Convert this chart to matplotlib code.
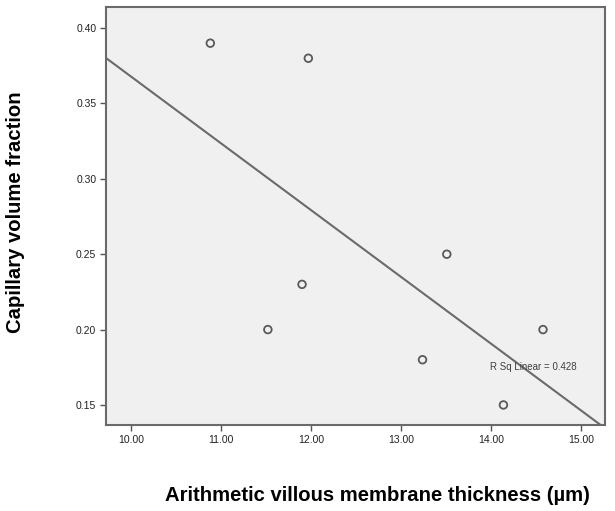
import matplotlib.pyplot as plt
import numpy as np

# villous membrane thickness vs capillary volume fraction
thickness = [10.88, 11.52, 11.90, 11.97, 13.24, 13.51, 14.14, 14.58]
cap_frac = [0.39, 0.20, 0.23, 0.38, 0.18, 0.25, 0.15, 0.20]
x_ticks = [10, 11, 12, 13, 14, 15]
y_ticks = [0.15, 0.20, 0.25, 0.30, 0.35, 0.40]
r2_label = "R Sq Linear = 0.428"

plt.rcParams["font.family"] = ["Liberation Sans", "DejaVu Sans"]

fig = plt.figure(figsize=(6.15, 5.11), dpi=100)
ax = fig.add_axes([0.1724, 0.1683, 0.8114, 0.818])
ax.set_facecolor("#f0f0f0")

xlim = (9.72, 15.27)
ax.set_xlim(xlim)
ax.set_ylim(0.1367, 0.414)

# least squares fit line across the whole axis
slope, icpt = np.polyfit(thickness, cap_frac, 1)
xs = np.array(xlim)
ax.plot(xs, slope * xs + icpt, color="#6a6a6a", lw=1.5, zorder=2)

ax.scatter(thickness, cap_frac, s=30, facecolors="none", edgecolors="#5a5a5a",
           linewidths=1.3, zorder=3)

ax.text(14.47, 0.175, r2_label, fontsize=7, color="#404040", ha="center", va="center")

ax.set_xticks(x_ticks)
ax.set_xticklabels([f"{v:.2f}" for v in x_ticks])
ax.set_yticks(y_ticks)
ax.set_yticklabels([f"{v:.2f}" for v in y_ticks])
ax.tick_params(direction="out", length=4, width=1, color="#555555",
               labelsize=7.5, labelcolor="#222222", pad=3)

for s in ax.spines.values():
    s.set_color("#6a6a6a")
    s.set_linewidth(1.5)

fig.text(0.613, 0.031, "Arithmetic villous membrane thickness (µm)", fontsize=14.6,
         fontweight="bold", ha="center", va="center")
fig.text(0.026, 0.585, "Capillary volume fraction", fontsize=14.6, fontweight="bold",
         rotation=90, ha="center", va="center")

plt.savefig("out.png", dpi=100)
